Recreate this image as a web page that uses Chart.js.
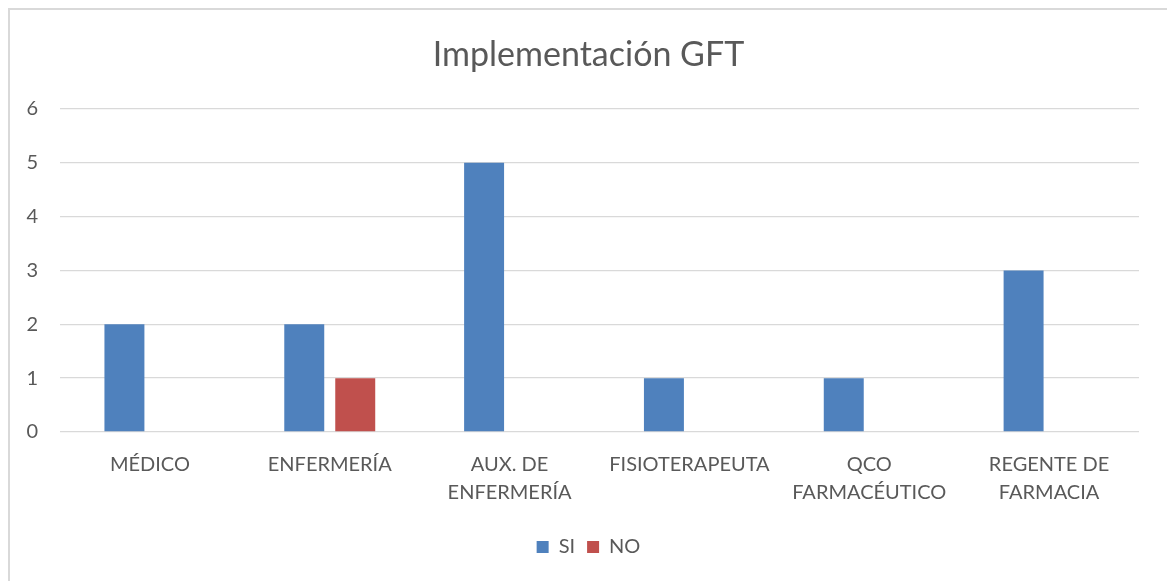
<!DOCTYPE html>
<html>
<head>
<meta charset="utf-8">
<script src="https://cdn.jsdelivr.net/npm/chart.js@4"></script>
<style>
  body { margin: 0; background: #fff; overflow: hidden; }
  #wrap { position: relative; width: 1167px; height: 581px; }
  #frame { position: absolute; left: 8px; top: 8px; width: 1180px; height: 600px; border: 2px solid #d9d9d9; box-sizing: border-box; }
  canvas { position: absolute; left: 0; top: 0; }
</style>
</head>
<body>
<div id="wrap">
  <div id="frame"></div>
  <canvas id="myChart" width="1167" height="581"></canvas>
</div>
<script>
// categories and series
var categorias = ["MÉDICO", "ENFERMERÍA", ["AUX. DE", "ENFERMERÍA"], "FISIOTERAPEUTA", ["QCO", "FARMACÉUTICO"], ["REGENTE DE", "FARMACIA"]];
var valoresSi = [2, 2, 5, 1, 1, 3];
var valoresNo = [0, 1, 0, 0, 0, 0];
var ticksY = [0, 1, 2, 3, 4, 5, 6];

var gris = "#595959";
var fuente = "Lato, 'Open Sans', sans-serif";

var ctx = document.getElementById("myChart").getContext('2d');
var myChart = new Chart(ctx, {
    type: 'bar',
    data: {
        labels: categorias,
        datasets: [{
            label: "SI",
            data: valoresSi,
            backgroundColor: "#4f81bd"
        },
        {
            label: "NO",
            data: valoresNo,
            backgroundColor: "#c0504d"
        }
        ]
    },
    options: {
        responsive: false,
        animation: false,
        categoryPercentage: 0.567,
        barPercentage: 0.784,
        layout: { padding: { left: 10, right: 0, top: 0, bottom: 14 } },
        plugins: {
            title: {
                display: true,
                text: "Implementación GFT",
                color: gris,
                font: { family: fuente, size: 34, weight: 'normal' },
                padding: { top: 35, bottom: 33 }
            },
            legend: {
                position: 'bottom',
                labels: {
                    color: gris,
                    font: { family: fuente, size: 20 },
                    boxWidth: 12,
                    boxHeight: 12,
                    padding: 12
                }
            },
            tooltip: { enabled: false }
        },
        scales: {
            x: {
                grid: { display: false },
                border: { display: false },
                ticks: {
                    color: gris,
                    font: { family: fuente, size: 20, lineHeight: 1.4 },
                    padding: 11,
                    maxRotation: 0,
                    autoSkip: false
                },
                afterFit: function (scale) { scale.height = 93; }
            },
            y: {
                min: 0,
                max: 6,
                afterBuildTicks: function (scale) {
                    scale.ticks = ticksY.map(function (v) { return { value: v }; });
                },
                grid: { color: "#d9d9d9", lineWidth: 1.3, drawTicks: false },
                border: { display: false },
                ticks: {
                    color: gris,
                    font: { family: fuente, size: 20 },
                    padding: 22
                },
                afterFit: function (scale) { scale.width = 50; }
            },
            y2: {
                position: 'right',
                grid: { display: false },
                border: { display: false },
                ticks: { display: false },
                afterFit: function (scale) { scale.width = 28; }
            }
        }
    }
});
</script>
</body>
</html>
